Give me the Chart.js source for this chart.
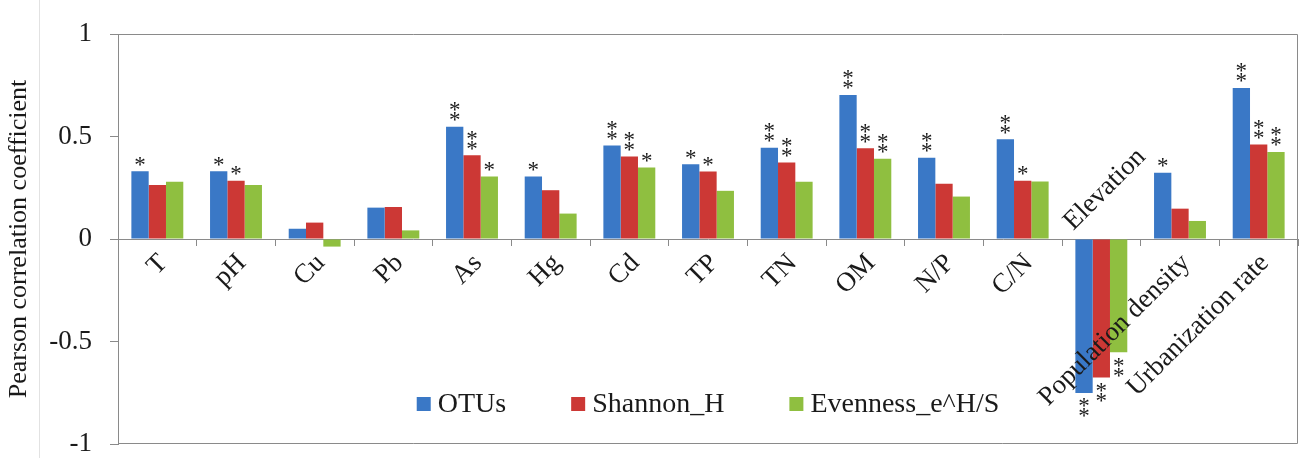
<!DOCTYPE html>
<html>
<head>
<meta charset="utf-8">
<script src="https://cdn.jsdelivr.net/npm/chart.js@4.4.1/dist/chart.umd.min.js"></script>
<style>
  html, body { margin: 0; padding: 0; background: #fff; }
  #wrap { position: relative; width: 1304px; height: 458px; }
</style>
</head>
<body>
<div id="wrap"><canvas id="chart"></canvas></div>
<script>
const categories = ['T', 'pH', 'Cu', 'Pb', 'As', 'Hg', 'Cd', 'TP', 'TN', 'OM', 'N/P', 'C/N', 'Elevation', 'Population density', 'Urbanization rate'];
const otus     = [0.330, 0.330, 0.050, 0.153, 0.548, 0.305, 0.456, 0.365, 0.445, 0.703, 0.396, 0.486, -0.751, 0.323, 0.737];
const shannon  = [0.263, 0.284, 0.080, 0.156, 0.409, 0.238, 0.403, 0.329, 0.373, 0.443, 0.270, 0.284, -0.675, 0.148, 0.461];
const evenness = [0.279, 0.264, -0.037, 0.042, 0.305, 0.124, 0.349, 0.235, 0.279, 0.391, 0.207, 0.280, -0.553, 0.088, 0.425];

// significance marks per bar
const otusSig     = ['*', '*', '', '', '**', '*', '**', '*', '**', '**', '**', '**', '**', '*', '**'];
const shannonSig  = ['', '*', '', '', '**', '', '**', '*', '**', '**', '', '*', '**', '', '**'];
const evennessSig = ['', '', '', '', '*', '', '*', '', '', '**', '', '', '**', '', '**'];

const seriesNames = ['OTUs', 'Shannon_H', 'Evenness_e^H/S'];
const yTicks = [-1, -0.5, 0, 0.5, 1];
const labelsAbove = ['Elevation'];

const FONT = '"Liberation Serif", "Times New Roman", serif';
const TEXT = '#1a1a1a';
const AXIS = '#8a8a8a';
const sigs = [otusSig, shannonSig, evennessSig];

Chart.defaults.font.family = FONT;
Chart.defaults.color = TEXT;

const decorations = {
  id: 'decorations',
  beforeDraw(chart) {
    const ctx = chart.ctx;
    ctx.save();
    ctx.strokeStyle = '#e2e2e2';
    ctx.beginPath();
    ctx.moveTo(39.5, 0);
    ctx.lineTo(39.5, chart.height);
    ctx.stroke();
    ctx.restore();
  },
  afterDatasetsDraw(chart) {
    const { ctx, chartArea: a, scales: { x, y } } = chart;
    ctx.save();

    // plot area frame (top, right, bottom)
    ctx.strokeStyle = AXIS;
    ctx.lineWidth = 1;
    const l = Math.round(a.left) + 0.5, r = Math.round(a.right) - 0.5;
    const t = Math.round(a.top) + 0.5, b = Math.round(a.bottom) - 0.5;
    ctx.beginPath();
    ctx.moveTo(l, t); ctx.lineTo(r, t); ctx.lineTo(r, b); ctx.lineTo(l, b);
    ctx.stroke();

    // asterisks
    ctx.fillStyle = TEXT;
    ctx.font = '23px ' + FONT;
    ctx.textAlign = 'center';
    ctx.textBaseline = 'alphabetic';
    const m = ctx.measureText('*');
    const off = (m.actualBoundingBoxAscent - m.actualBoundingBoxDescent) / 2;
    chart.data.datasets.forEach((ds, d) => {
      const meta = chart.getDatasetMeta(d);
      meta.data.forEach((bar, i) => {
        const n = sigs[d][i].length;
        const v = ds.data[i];
        for (let k = 0; k < n; k++) {
          const cy = v >= 0 ? bar.y - 10 - 10 * k : bar.y + 10 + 10 * k;
          ctx.fillText('*', bar.x, cy + off);
        }
      });
    });

    // category labels, rotated like the axis labels
    const y0 = y.getPixelForValue(0);
    ctx.font = '27px ' + FONT;
    ctx.textBaseline = 'middle';
    categories.forEach((c, i) => {
      const px = x.getPixelForValue(i);
      ctx.save();
      if (labelsAbove.includes(c)) {
        ctx.translate(px - 33, y0 - 13);
        ctx.rotate(-Math.PI / 4);
        ctx.textAlign = 'left';
      } else {
        ctx.translate(px + 6, y0 + 20);
        ctx.rotate(-Math.PI / 4);
        ctx.textAlign = 'right';
      }
      ctx.fillText(c, 0, 0);
      ctx.restore();
    });

    // legend inside the plot area
    ctx.font = '28px ' + FONT;
    ctx.textAlign = 'left';
    const box = 14, gap = 7, space = 65;
    const items = chart.data.datasets.map(ds => ({ text: ds.label, color: ds.backgroundColor, w: ctx.measureText(ds.label).width }));
    const total = items.reduce((s, it) => s + box + gap + it.w, 0) + space * (items.length - 1);
    let lx = (a.left + a.right) / 2 - total / 2;
    const ly = 404;
    items.forEach(it => {
      ctx.fillStyle = it.color;
      ctx.fillRect(lx, ly - box / 2, box, box);
      ctx.fillStyle = TEXT;
      ctx.fillText(it.text, lx + box + gap, ly + 1);
      lx += box + gap + it.w + space;
    });

    ctx.restore();
  }
};

new Chart(document.getElementById('chart'), {
  type: 'bar',
  data: {
    labels: categories,
    datasets: [
      { label: seriesNames[0], data: otus, backgroundColor: '#3a78c6' },
      { label: seriesNames[1], data: shannon, backgroundColor: '#cc3835' },
      { label: seriesNames[2], data: evenness, backgroundColor: '#8fbf40' }
    ]
  },
  options: {
    responsive: true,
    maintainAspectRatio: false,
    animation: false,
    layout: { padding: { top: 34, right: 6, bottom: 14, left: 0 } },
    datasets: { bar: { categoryPercentage: 0.66, barPercentage: 1, borderWidth: 0 } },
    plugins: { legend: { display: false }, tooltip: { enabled: false } },
    scales: {
      x: {
        position: { y: 0 },
        offset: true,
        ticks: { display: false },
        grid: { drawOnChartArea: false, offset: true, tickLength: 6, color: AXIS },
        border: { color: AXIS },
        afterFit(s) { s.height = 0; }
      },
      y: {
        min: -1,
        max: 1,
        afterBuildTicks(s) { s.ticks = yTicks.map(v => ({ value: v })); },
        ticks: {
          font: { family: FONT, size: 27, lineHeight: 1 },
          color: TEXT,
          padding: 18,
          callback: v => String(v)
        },
        grid: { drawOnChartArea: false, drawTicks: true, tickLength: 8, color: AXIS },
        border: { color: AXIS },
        title: {
          display: true,
          text: 'Pearson correlation coefficient',
          font: { family: FONT, size: 26 },
          color: TEXT,
          padding: { top: 4, bottom: 0 }
        },
        afterFit(s) {
          s.width = 118;
          s.paddingTop = 0;
          s.paddingBottom = 0;
        }
      }
    }
  },
  plugins: [decorations]
});
</script>
</body>
</html>
